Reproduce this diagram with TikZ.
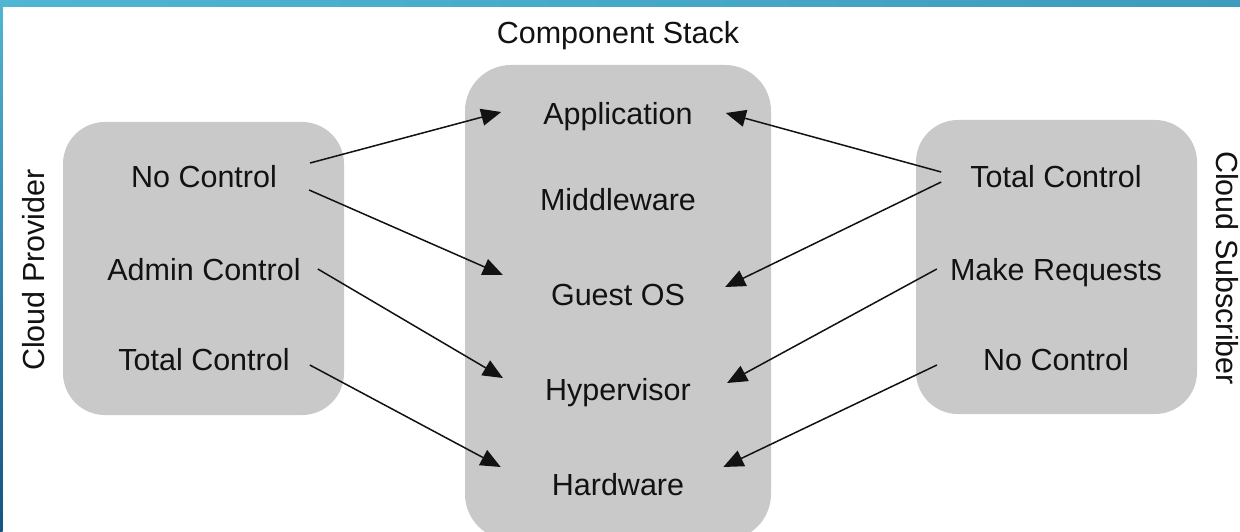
\documentclass[tikz,border=0pt]{standalone}
\usepackage{fontspec}
\setmainfont{Liberation Sans}
\usetikzlibrary{arrows.meta,calc}
\definecolor{panel}{RGB}{201,201,201}
\definecolor{ink}{RGB}{18,18,18}
\definecolor{stripA}{RGB}{80,182,210}
\definecolor{stripB}{RGB}{62,156,190}
\definecolor{edgeB}{RGB}{22,84,128}
\tikzset{
  panelbox/.style={fill=panel, draw=none, rounded corners=42pt},
  lbl/.style={text=ink, font=\fontsize{30.5}{36}\selectfont, inner sep=0pt, anchor=base},
  link/.style={draw=ink, line width=1.5pt, -{Triangle[length=20pt,width=17pt]}},
}
\begin{document}
\begin{tikzpicture}[x=1pt,y=-1pt]
\useasboundingbox (0,0) rectangle (1240,532);
\fill[white] (0,0) rectangle (1240,532);
% frame strips
\shade[left color=stripA, right color=stripB] (0,0) rectangle (1240,7);
\shade[top color=stripA, bottom color=edgeB] (0,0) rectangle (2.5,532);

% panels
\path[panelbox] (63,122) rectangle (344,415);
\path[panelbox, rounded corners=46pt] (465,65) rectangle (771,540);
\path[panelbox] (916,120) rectangle (1197,414);

% titles
\node[lbl] (stack) at (618,44) {Component Stack};
\node[lbl, rotate=90] (prov) at (44,270) {Cloud Provider};
\node[lbl, rotate=-90] (subs) at (1216,268) {Cloud Subscriber};

% component stack
\node[lbl] (app) at (618,125) {Application};
\node[lbl] (mid) at (618,210) {Middleware};
\node[lbl] (gos) at (618,305) {Guest OS};
\node[lbl] (hyp) at (618,400) {Hypervisor};
\node[lbl] (hw)  at (618,495) {Hardware};

% provider side
\node[lbl] (pnc) at (204,188) {No Control};
\node[lbl] (pac) at (204,280) {Admin Control};
\node[lbl] (ptc) at (204,370) {Total Control};

% subscriber side
\node[lbl] (stc) at (1056,188) {Total Control};
\node[lbl] (smr) at (1056,280) {Make Requests};
\node[lbl] (snc) at (1056,370) {No Control};

% connector end points, measured from the text baselines
\coordinate (pnc1) at ($(pnc.base east)+(33,-25)$);
\coordinate (pnc2) at ($(pnc.base east)+(32,2)$);
\coordinate (pac1) at ($(pac.base east)+(17,-11)$);
\coordinate (ptc1) at ($(ptc.base east)+(20,-5)$);
\coordinate (stc1) at ($(stc.base west)+(-29,-16)$);
\coordinate (stc2) at ($(stc.base west)+(-29,-6)$);
\coordinate (smr1) at ($(smr.base west)+(-13,-11)$);
\coordinate (snc1) at ($(snc.base west)+(-46,-5)$);
\coordinate (appL) at ($(app.base west)+(-42,-13)$);
\coordinate (appR) at ($(app.base east)+(33,-12)$);
\coordinate (gosL) at ($(gos.base west)+(-48,-30)$);
\coordinate (gosR) at ($(gos.base east)+(40,-18)$);
\coordinate (hypL) at ($(hyp.base west)+(-42,-22)$);
\coordinate (hypR) at ($(hyp.base east)+(36,-17)$);
\coordinate (hwL)  at ($(hw.base west)+(-51,-28)$);
\coordinate (hwR)  at ($(hw.base east)+(39,-28)$);

% control relations
\draw[link] (pnc1) -- (appL);
\draw[link] (pnc2) -- (gosL);
\draw[link] (pac1) -- (hypL);
\draw[link] (ptc1) -- (hwL);
\draw[link] (stc1) -- (appR);
\draw[link] (stc2) -- (gosR);
\draw[link] (smr1) -- (hypR);
\draw[link] (snc1) -- (hwR);
\end{tikzpicture}
\end{document}
